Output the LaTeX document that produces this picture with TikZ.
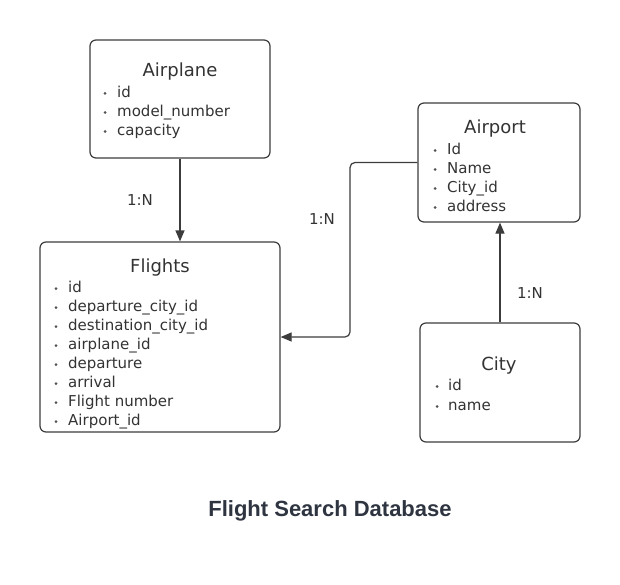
\documentclass[tikz,border=0pt]{standalone}
\usepackage{fontspec}
\setmainfont{DejaVu Sans}
\newfontfamily\titlefont{Liberation Sans}
\usetikzlibrary{arrows.meta}
\definecolor{txt}{HTML}{333333}
\definecolor{edge}{HTML}{3C3C3C}
\definecolor{captxt}{HTML}{2E3440}
\begin{document}
\begin{tikzpicture}[x=1pt,y=-1pt,
  entity/.style={draw=edge,line width=1.2pt,rounded corners=6pt,fill=white,inner sep=0pt},
  etitle/.style={text=txt,font=\fontsize{18}{20}\selectfont,anchor=mid,inner sep=0pt},
  eitem/.style={text=txt,font=\fontsize{15}{17}\selectfont,anchor=mid west,inner sep=0pt},
  ebullet/.style={fill=txt!85,circle,inner sep=0pt,minimum size=3pt},
  rel/.style={draw=edge,line width=1.2pt,-{Triangle[length=11pt,width=9pt]}},
  rlabel/.style={text=txt,font=\fontsize{15}{17}\selectfont,inner sep=0pt,anchor=mid}
]
\useasboundingbox (0,0) rectangle (620,585);

% boxes
\node[entity,minimum width=180pt,minimum height=118pt] (airplane) at (180,99) {};
\node[entity,minimum width=240pt,minimum height=190pt] (flights) at (160,337) {};
\node[entity,minimum width=162pt,minimum height=119pt] (airport) at (499,162.5) {};
\node[entity,minimum width=160pt,minimum height=119pt] (city) at (500,382.5) {};

% titles
\node[etitle] (tAirplane) at (180,74) {Airplane};
\node[etitle] (tFlights) at (160,270) {Flights};
\node[etitle] (tAirport) at (495,131) {Airport};
\node[etitle] (tCity) at (499,368) {City};

% items
\foreach \t [count=\i] in {id,model\_number,capacity}{
  \node[ebullet] (bA\i) at (105,{74.5+19*\i}) {};
  \node[eitem] (iA\i) at (117,{75.5+19*\i}) {\t};
}
\foreach \t [count=\i] in {id,departure\_city\_id,destination\_city\_id,airplane\_id,departure,arrival,Flight number,Airport\_id}{
  \node[ebullet] (bF\i) at (56,{269.5+19*\i}) {};
  \node[eitem] (iF\i) at (68,{270.5+19*\i}) {\t};
}
\foreach \t [count=\i] in {Id,Name,City\_id,address}{
  \node[ebullet] (bP\i) at (435,{131.5+19*\i}) {};
  \node[eitem] (iP\i) at (447,{132.5+19*\i}) {\t};
}
\foreach \t [count=\i] in {id,name}{
  \node[ebullet] (bC\i) at (437,{366.5+20*\i}) {};
  \node[eitem] (iC\i) at (448,{367.5+20*\i}) {\t};
}

% connectors
\coordinate (xcol) at (350,0);
\draw[rel] (airplane.south) -- (airplane.south |- flights.north);
\draw[rel,rounded corners=5pt] (airport.west) -- (airport.west -| xcol) |- (flights.east);
\draw[rel] (city.north) -- (city.north |- airport.south);

\node[rlabel] (l1) at (140,203) {1:N};
\node[rlabel] (l2) at (322,222) {1:N};
\node[rlabel] (l3) at (530,296) {1:N};

\node[text=captxt,font=\titlefont\bfseries\fontsize{22}{25}\selectfont,anchor=mid,inner sep=0pt] (caption) at (330,514) {Flight Search Database};
\end{tikzpicture}
\end{document}
